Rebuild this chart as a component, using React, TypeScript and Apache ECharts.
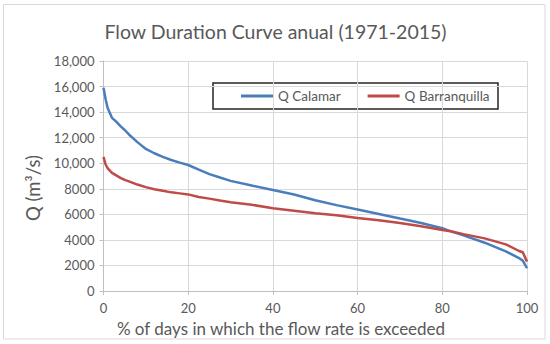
import React, { useEffect, useRef } from "react";
import * as echarts from "echarts";

const xs = [0, 0.5, 1, 2, 3, 4, 5, 6, 8, 10, 12, 14, 16, 18, 20, 22.5, 25, 27.5, 30, 35, 40, 45, 50, 55, 60, 65, 70, 75, 80, 82, 85, 90, 95, 98, 99, 100];
const calamar = [15900, 15000, 14300, 13550, 13250, 12900, 12600, 12250, 11650, 11120, 10780, 10500, 10250, 10050, 9860, 9500, 9150, 8880, 8620, 8250, 7900, 7550, 7100, 6720, 6380, 6030, 5670, 5320, 4910, 4670, 4350, 3780, 3100, 2600, 2380, 1780];
const barranquilla = [10500, 9900, 9600, 9250, 9050, 8850, 8700, 8580, 8330, 8130, 7970, 7840, 7720, 7640, 7560, 7350, 7230, 7080, 6950, 6750, 6480, 6280, 6080, 5920, 5720, 5530, 5330, 5060, 4780, 4670, 4450, 4120, 3650, 3150, 3030, 2300];
const seriesNames = ["Q Calamar", "Q Barranquilla"];
const titleText = "Flow Duration Curve anual (1971-2015)";
const xTitle = "% of days in which the flow rate is exceeded";
const yTitle = "Q (m³/s)";

export default function App() {
  const ref = useRef<HTMLDivElement>(null);
  useEffect(() => {
    document.body.style.margin = "0";
    const chart = echarts.init(ref.current!, null, { renderer: "svg" });
    const font = "Lato, 'Open Sans', sans-serif";
    const txt = "#595959";
    chart.setOption({
      animation: false,
      backgroundColor: "#ffffff",
      textStyle: { fontFamily: font },
      grid: { left: 103.5, right: 23, top: 61, bottom: 53, containLabel: false },
      legend: {
        left: 241,
        top: 89,
        itemWidth: 32,
        itemHeight: 3,
        itemGap: 27,
        icon: "rect",
        padding: 0,
        textStyle: { color: txt, fontSize: 13.5, fontFamily: font },
        data: seriesNames,
      },
      xAxis: {
        type: "value",
        min: 0,
        max: 100,
        interval: 20,
        axisLine: { show: true, lineStyle: { color: "#bfbfbf", width: 1 } },
        axisTick: { show: true, length: 4, lineStyle: { color: "#bfbfbf" } },
        axisLabel: { color: txt, fontSize: 13, margin: 10, fontFamily: font },
        splitLine: { show: true, lineStyle: { color: "#d9d9d9", width: 1 } },
      },
      yAxis: {
        type: "value",
        min: 0,
        max: 18000,
        interval: 2000,
        axisLine: { show: true, lineStyle: { color: "#bfbfbf", width: 1 } },
        axisTick: { show: true, length: 4, lineStyle: { color: "#bfbfbf" } },
        axisLabel: {
          color: txt,
          fontSize: 13,
          margin: 9,
          fontFamily: font,
          formatter: (v: number) => (v >= 10000 ? v.toLocaleString("en-US") : String(v)),
        },
        splitLine: { show: true, lineStyle: { color: "#d9d9d9", width: 1 } },
      },
      series: [
        {
          name: seriesNames[0],
          type: "line",
          showSymbol: false,
          symbol: "none",
          data: xs.map((x, i) => [x, calamar[i]]),
          lineStyle: { color: "#4A7EBB", width: 2.5 },
          itemStyle: { color: "#4A7EBB" },
        },
        {
          name: seriesNames[1],
          type: "line",
          showSymbol: false,
          symbol: "none",
          data: xs.map((x, i) => [x, barranquilla[i]]),
          lineStyle: { color: "#BE4B48", width: 2.5 },
          itemStyle: { color: "#BE4B48" },
        },
      ],
      graphic: [
        {
          type: "rect",
          shape: { x: 3.5, y: 4.5, width: 541.5, height: 334.5 },
          style: { fill: "none", stroke: "#d9d9d9", lineWidth: 1 },
          silent: true,
        },
        {
          type: "rect",
          shape: { x: 213, y: 83, width: 285, height: 26 },
          style: { fill: "#ffffff", stroke: "#262626", lineWidth: 1.5 },
          z: -1,
          silent: true,
        },
        {
          type: "text",
          x: 275.5,
          y: 31,
          style: { text: titleText, fill: txt, fontSize: 19.5, fontFamily: font, align: "center", verticalAlign: "middle" },
        },
        {
          type: "text",
          x: 281,
          y: 328,
          style: { text: xTitle, fill: txt, fontSize: 17, fontFamily: font, align: "center", verticalAlign: "middle" },
        },
        {
          type: "text",
          x: 33,
          y: 188,
          rotation: Math.PI / 2,
          style: { text: yTitle, fill: txt, fontSize: 18.5, fontFamily: font, align: "center", verticalAlign: "middle" },
        },
      ],
    });
    return () => chart.dispose();
  }, []);
  return <div ref={ref} style={{ width: 550, height: 344, position: "absolute", left: 0, top: 0 }} />;
}
